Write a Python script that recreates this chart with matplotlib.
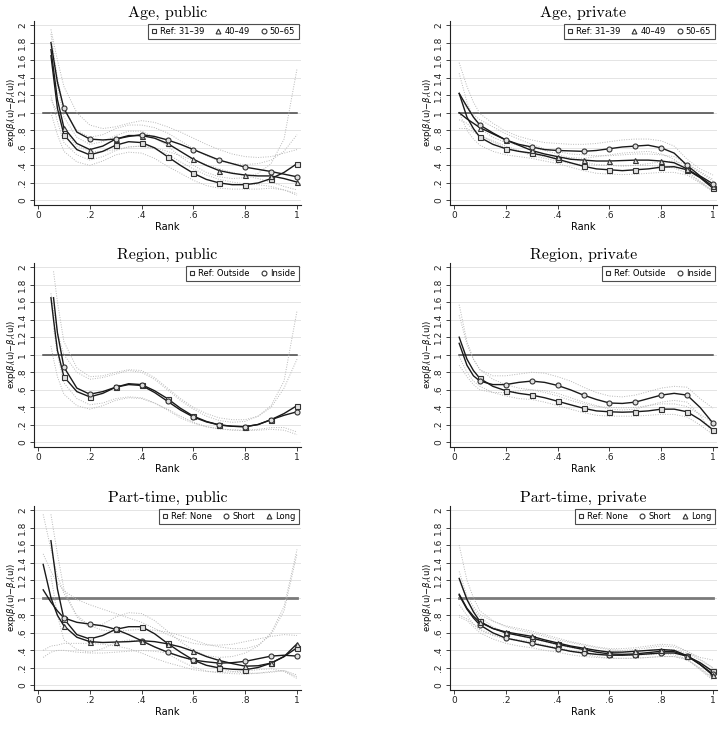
import numpy as np
import matplotlib
matplotlib.use('Agg')
import matplotlib.pyplot as plt
from matplotlib.lines import Line2D

# rank grids (curves start at different ranks)
U_A = [0.05, 0.075, 0.1, 0.15, 0.2, 0.25, 0.3, 0.35, 0.4, 0.45, 0.5, 0.55, 0.6, 0.65, 0.7, 0.75, 0.8, 0.85, 0.9, 0.95, 1.0]
U_B = [0.02, 0.05, 0.075, 0.1, 0.15, 0.2, 0.25, 0.3, 0.35, 0.4, 0.45, 0.5, 0.55, 0.6, 0.65, 0.7, 0.75, 0.8, 0.85, 0.9, 0.95, 1.0]
U_C = [0.05, 0.06, 0.075, 0.1, 0.15, 0.2, 0.25, 0.3, 0.35, 0.4, 0.45, 0.5, 0.55, 0.6, 0.65, 0.7, 0.75, 0.8, 0.85, 0.9, 0.95, 1.0]
nan = np.nan

# Age, public (grid U_A)
age_pub_ref = [1.65, 1.05, 0.75, 0.58, 0.52, 0.56, 0.63, 0.67, 0.66, 0.60, 0.50, 0.40, 0.31, 0.24, 0.20, 0.18, 0.18, 0.20, 0.25, 0.32, 0.42]
age_pub_ref_hi = [1.75, 1.30, 0.95, 0.72, 0.64, 0.67, 0.74, 0.79, 0.79, 0.72, 0.62, 0.50, 0.40, 0.32, 0.27, 0.25, 0.26, 0.31, 0.42, 0.70, 1.50]
age_pub_ref_lo = [1.00, 0.75, 0.56, 0.44, 0.40, 0.45, 0.52, 0.55, 0.54, 0.48, 0.39, 0.31, 0.23, 0.17, 0.14, 0.13, 0.13, 0.13, 0.14, 0.12, 0.06]
age_pub_40 = [1.72, 1.15, 0.83, 0.65, 0.58, 0.62, 0.70, 0.74, 0.74, 0.71, 0.65, 0.56, 0.47, 0.40, 0.34, 0.31, 0.29, 0.28, 0.28, 0.25, 0.21]
age_pub_40_hi = [1.90, 1.40, 1.05, 0.80, 0.72, 0.75, 0.82, 0.86, 0.86, 0.83, 0.77, 0.68, 0.59, 0.51, 0.45, 0.42, 0.41, 0.42, 0.46, 0.56, 0.75]
age_pub_40_lo = [1.20, 0.90, 0.66, 0.52, 0.46, 0.50, 0.57, 0.61, 0.62, 0.59, 0.53, 0.44, 0.36, 0.29, 0.24, 0.21, 0.19, 0.18, 0.16, 0.12, 0.08]
age_pub_50 = [1.80, 1.35, 1.05, 0.78, 0.70, 0.69, 0.70, 0.73, 0.75, 0.73, 0.69, 0.64, 0.58, 0.52, 0.46, 0.42, 0.38, 0.355, 0.33, 0.30, 0.27]
age_pub_50_hi = [1.95, 1.60, 1.30, 1.00, 0.86, 0.82, 0.84, 0.88, 0.91, 0.89, 0.84, 0.78, 0.71, 0.64, 0.58, 0.53, 0.50, 0.49, 0.50, 0.54, 0.58]
age_pub_50_lo = [1.15, 1.00, 0.80, 0.62, 0.56, 0.56, 0.58, 0.61, 0.62, 0.60, 0.56, 0.51, 0.46, 0.41, 0.36, 0.32, 0.28, 0.25, 0.21, 0.16, 0.12]

# Age, private (grid U_B)
age_prv_ref = [1.22, 0.95, 0.82, 0.72, 0.64, 0.59, 0.56, 0.54, 0.51, 0.47, 0.43, 0.39, 0.36, 0.35, 0.34, 0.35, 0.36, 0.38, 0.385, 0.35, 0.26, 0.14]
age_prv_ref_hi = [1.45, 1.12, 0.95, 0.82, 0.72, 0.66, 0.63, 0.60, 0.57, 0.53, 0.48, 0.44, 0.41, 0.40, 0.39, 0.40, 0.42, 0.44, 0.45, 0.41, 0.32, 0.22]
age_prv_ref_lo = [1.00, 0.80, 0.70, 0.63, 0.56, 0.52, 0.50, 0.48, 0.45, 0.42, 0.38, 0.34, 0.31, 0.30, 0.295, 0.30, 0.31, 0.32, 0.32, 0.29, 0.20, 0.10]
age_prv_40 = [1.00, 0.93, 0.88, 0.83, 0.76, 0.69, 0.63, 0.57, 0.53, 0.50, 0.47, 0.46, 0.45, 0.45, 0.455, 0.46, 0.46, 0.45, 0.43, 0.36, 0.27, 0.16]
age_prv_40_hi = [1.20, 1.05, 0.98, 0.92, 0.84, 0.76, 0.70, 0.64, 0.59, 0.56, 0.53, 0.52, 0.51, 0.51, 0.52, 0.53, 0.53, 0.52, 0.50, 0.42, 0.33, 0.24]
age_prv_40_lo = [0.82, 0.82, 0.78, 0.74, 0.68, 0.62, 0.57, 0.51, 0.48, 0.45, 0.42, 0.41, 0.40, 0.40, 0.40, 0.40, 0.40, 0.39, 0.37, 0.31, 0.22, 0.11]
age_prv_50 = [1.22, 1.07, 0.95, 0.86, 0.77, 0.69, 0.64, 0.61, 0.58, 0.57, 0.565, 0.56, 0.57, 0.59, 0.61, 0.62, 0.63, 0.60, 0.54, 0.40, 0.28, 0.19]
age_prv_50_hi = [1.57, 1.30, 1.12, 0.99, 0.88, 0.79, 0.73, 0.69, 0.66, 0.65, 0.64, 0.64, 0.65, 0.67, 0.69, 0.70, 0.70, 0.68, 0.62, 0.47, 0.36, 0.29]
age_prv_50_lo = [0.92, 0.88, 0.80, 0.74, 0.67, 0.60, 0.56, 0.53, 0.50, 0.49, 0.49, 0.48, 0.50, 0.52, 0.54, 0.55, 0.56, 0.53, 0.47, 0.34, 0.21, 0.11]

# Region, public (grid U_C)
reg_pub_ref = [1.65, 1.40, 1.05, 0.75, 0.58, 0.52, 0.56, 0.63, 0.67, 0.66, 0.59, 0.50, 0.39, 0.30, 0.24, 0.20, 0.185, 0.18, 0.205, 0.26, 0.33, 0.42]
reg_pub_ref_hi = [1.70, 1.50, 1.25, 1.00, 0.80, 0.72, 0.74, 0.78, 0.82, 0.80, 0.72, 0.60, 0.48, 0.38, 0.30, 0.25, 0.23, 0.24, 0.30, 0.42, 0.70, 1.50]
reg_pub_ref_lo = [1.10, 0.95, 0.75, 0.55, 0.42, 0.38, 0.42, 0.48, 0.51, 0.50, 0.45, 0.38, 0.30, 0.23, 0.18, 0.155, 0.14, 0.135, 0.14, 0.15, 0.14, 0.09]
reg_pub_in = [nan, 1.65, 1.25, 0.86, 0.62, 0.55, 0.58, 0.63, 0.66, 0.65, 0.57, 0.47, 0.37, 0.29, 0.235, 0.20, 0.185, 0.18, 0.205, 0.26, 0.31, 0.35]
reg_pub_in_hi = [nan, 1.95, 1.60, 1.15, 0.85, 0.75, 0.76, 0.80, 0.83, 0.82, 0.74, 0.62, 0.50, 0.40, 0.33, 0.28, 0.26, 0.26, 0.30, 0.40, 0.62, 0.95]
reg_pub_in_lo = [nan, 1.30, 1.00, 0.68, 0.50, 0.43, 0.45, 0.50, 0.52, 0.51, 0.45, 0.37, 0.28, 0.22, 0.18, 0.155, 0.145, 0.14, 0.15, 0.17, 0.17, 0.12]

# Region, private (grid U_B)
reg_prv_ref = [1.20, 0.95, 0.82, 0.73, 0.64, 0.59, 0.56, 0.54, 0.51, 0.47, 0.43, 0.39, 0.36, 0.35, 0.345, 0.35, 0.36, 0.38, 0.38, 0.35, 0.26, 0.145]
reg_prv_ref_hi = [1.45, 1.12, 0.95, 0.83, 0.72, 0.66, 0.62, 0.60, 0.57, 0.53, 0.48, 0.44, 0.41, 0.40, 0.395, 0.40, 0.42, 0.44, 0.44, 0.41, 0.32, 0.23]
reg_prv_ref_lo = [0.98, 0.80, 0.70, 0.64, 0.57, 0.53, 0.50, 0.49, 0.46, 0.42, 0.38, 0.34, 0.31, 0.30, 0.30, 0.30, 0.31, 0.32, 0.32, 0.29, 0.20, 0.09]
reg_prv_in = [1.13, 0.88, 0.76, 0.70, 0.66, 0.66, 0.685, 0.70, 0.685, 0.65, 0.60, 0.54, 0.49, 0.45, 0.445, 0.46, 0.50, 0.54, 0.56, 0.54, 0.40, 0.22]
reg_prv_in_hi = [1.57, 1.15, 0.95, 0.83, 0.76, 0.76, 0.78, 0.80, 0.79, 0.75, 0.70, 0.63, 0.57, 0.53, 0.52, 0.54, 0.58, 0.62, 0.64, 0.63, 0.50, 0.39]
reg_prv_in_lo = [0.88, 0.75, 0.66, 0.60, 0.57, 0.57, 0.59, 0.60, 0.59, 0.56, 0.51, 0.46, 0.42, 0.38, 0.37, 0.38, 0.42, 0.46, 0.48, 0.46, 0.31, 0.10]

# Part-time, public (grid U_B)
pt_pub_ref = [nan, 1.65, 1.10, 0.76, 0.58, 0.53, 0.57, 0.64, 0.67, 0.67, 0.59, 0.48, 0.38, 0.29, 0.23, 0.20, 0.185, 0.18, 0.205, 0.255, 0.33, 0.43]
pt_pub_ref_hi = [nan, 1.95, 1.50, 1.10, 0.78, 0.66, 0.70, 0.78, 0.83, 0.82, 0.74, 0.62, 0.50, 0.40, 0.34, 0.32, 0.33, 0.37, 0.45, 0.60, 0.90, 1.55]
pt_pub_ref_lo = [nan, 1.25, 0.80, 0.52, 0.41, 0.38, 0.42, 0.49, 0.52, 0.50, 0.44, 0.36, 0.28, 0.21, 0.165, 0.145, 0.135, 0.13, 0.14, 0.16, 0.17, 0.10]
pt_pub_short = [1.09, 0.95, 0.85, 0.77, 0.72, 0.70, 0.68, 0.64, 0.58, 0.51, 0.44, 0.38, 0.33, 0.29, 0.27, 0.255, 0.26, 0.275, 0.305, 0.335, 0.345, 0.335]
pt_pub_short_hi = [1.50, 1.30, 1.17, 1.08, 0.98, 0.92, 0.87, 0.82, 0.77, 0.72, 0.65, 0.58, 0.52, 0.48, 0.46, 0.46, 0.47, 0.50, 0.53, 0.56, 0.58, 0.57]
pt_pub_short_lo = [0.40, 0.45, 0.46, 0.48, 0.48, 0.48, 0.47, 0.45, 0.42, 0.37, 0.31, 0.26, 0.22, 0.18, 0.16, 0.15, 0.155, 0.165, 0.18, 0.19, 0.16, 0.08]
pt_pub_long = [1.38, 1.00, 0.80, 0.68, 0.55, 0.50, 0.49, 0.495, 0.50, 0.51, 0.50, 0.475, 0.44, 0.39, 0.33, 0.285, 0.25, 0.22, 0.225, 0.255, 0.33, 0.475]
pt_pub_long_hi = [1.95, 1.55, 1.25, 1.05, 0.80, 0.68, 0.63, 0.62, 0.63, 0.64, 0.63, 0.61, 0.57, 0.52, 0.47, 0.44, 0.42, 0.42, 0.46, 0.58, 0.85, 1.50]
pt_pub_long_lo = [0.32, 0.38, 0.40, 0.40, 0.38, 0.37, 0.37, 0.38, 0.39, 0.40, 0.39, 0.37, 0.33, 0.28, 0.23, 0.19, 0.16, 0.14, 0.14, 0.15, 0.17, 0.12]

# Part-time, private (grid U_B)
pt_prv_ref = [1.22, 0.98, 0.84, 0.73, 0.65, 0.60, 0.57, 0.54, 0.505, 0.47, 0.44, 0.41, 0.38, 0.36, 0.355, 0.36, 0.375, 0.39, 0.385, 0.335, 0.26, 0.16]
pt_prv_ref_hi = [1.60, 1.20, 1.00, 0.85, 0.74, 0.67, 0.63, 0.60, 0.56, 0.52, 0.49, 0.46, 0.43, 0.41, 0.40, 0.41, 0.43, 0.45, 0.44, 0.39, 0.32, 0.29]
pt_prv_ref_lo = [0.92, 0.80, 0.70, 0.63, 0.57, 0.53, 0.51, 0.48, 0.45, 0.42, 0.39, 0.36, 0.33, 0.31, 0.31, 0.31, 0.32, 0.33, 0.33, 0.29, 0.20, 0.09]
pt_prv_short = [1.03, 0.87, 0.77, 0.69, 0.60, 0.54, 0.51, 0.48, 0.45, 0.42, 0.39, 0.37, 0.355, 0.345, 0.345, 0.35, 0.36, 0.37, 0.37, 0.335, 0.24, 0.13]
pt_prv_short_hi = [1.20, 0.98, 0.87, 0.78, 0.67, 0.60, 0.57, 0.53, 0.50, 0.46, 0.43, 0.41, 0.39, 0.38, 0.38, 0.39, 0.40, 0.41, 0.41, 0.37, 0.29, 0.20]
pt_prv_short_lo = [0.78, 0.74, 0.67, 0.60, 0.53, 0.48, 0.45, 0.43, 0.40, 0.38, 0.35, 0.33, 0.32, 0.31, 0.31, 0.31, 0.32, 0.33, 0.33, 0.30, 0.19, 0.08]
pt_prv_long = [1.04, 0.88, 0.79, 0.72, 0.65, 0.61, 0.585, 0.56, 0.52, 0.485, 0.45, 0.425, 0.40, 0.38, 0.38, 0.39, 0.40, 0.41, 0.40, 0.34, 0.24, 0.115]
pt_prv_long_hi = [1.30, 1.02, 0.90, 0.81, 0.73, 0.68, 0.65, 0.62, 0.58, 0.54, 0.50, 0.47, 0.44, 0.42, 0.42, 0.43, 0.45, 0.47, 0.46, 0.39, 0.30, 0.20]
pt_prv_long_lo = [0.80, 0.76, 0.70, 0.64, 0.58, 0.54, 0.52, 0.50, 0.46, 0.43, 0.40, 0.38, 0.36, 0.35, 0.34, 0.35, 0.35, 0.36, 0.35, 0.30, 0.18, 0.06]

AGE_LABELS = ['Ref: 31\u201339', '40\u201349', '50\u201365']
REGION_LABELS = ['Ref: Outside', 'Inside']
PT_LABELS = ['Ref: None', 'Short', 'Long']

X_TICKS = [0, 0.2, 0.4, 0.6, 0.8, 1]
X_TICKLABELS = ['0', '.2', '.4', '.6', '.8', '1']
Y_TICKS = [0, 0.2, 0.4, 0.6, 0.8, 1, 1.2, 1.4, 1.6, 1.8, 2]
Y_TICKLABELS = ['0', '.2', '.4', '.6', '.8', '1', '1.2', '1.4', '1.6', '1.8', '2']

panels = [
    ('Age, public', U_A, AGE_LABELS, ['s', '^', 'o'],
     [(age_pub_ref, age_pub_ref_lo, age_pub_ref_hi),
      (age_pub_40, age_pub_40_lo, age_pub_40_hi),
      (age_pub_50, age_pub_50_lo, age_pub_50_hi)]),
    ('Age, private', U_B, AGE_LABELS, ['s', '^', 'o'],
     [(age_prv_ref, age_prv_ref_lo, age_prv_ref_hi),
      (age_prv_40, age_prv_40_lo, age_prv_40_hi),
      (age_prv_50, age_prv_50_lo, age_prv_50_hi)]),
    ('Region, public', U_C, REGION_LABELS, ['s', 'o'],
     [(reg_pub_ref, reg_pub_ref_lo, reg_pub_ref_hi),
      (reg_pub_in, reg_pub_in_lo, reg_pub_in_hi)]),
    ('Region, private', U_B, REGION_LABELS, ['s', 'o'],
     [(reg_prv_ref, reg_prv_ref_lo, reg_prv_ref_hi),
      (reg_prv_in, reg_prv_in_lo, reg_prv_in_hi)]),
    ('Part-time, public', U_B, PT_LABELS, ['s', 'o', '^'],
     [(pt_pub_ref, pt_pub_ref_lo, pt_pub_ref_hi),
      (pt_pub_short, pt_pub_short_lo, pt_pub_short_hi),
      (pt_pub_long, pt_pub_long_lo, pt_pub_long_hi)]),
    ('Part-time, private', U_B, PT_LABELS, ['s', 'o', '^'],
     [(pt_prv_ref, pt_prv_ref_lo, pt_prv_ref_hi),
      (pt_prv_short, pt_prv_short_lo, pt_prv_short_hi),
      (pt_prv_long, pt_prv_long_lo, pt_prv_long_hi)]),
]

fig = plt.figure(figsize=(7.21, 7.32), dpi=100)
W, H = 721.0, 732.0
col_left = [34, 450]
row_top = [21, 263, 506]
ax_w, ax_h = 267, 183.5

for k, (title, u, labels, markers, series) in enumerate(panels):
    r, c = divmod(k, 2)
    ax = fig.add_axes([col_left[c] / W, 1 - (row_top[r] + ax_h) / H, ax_w / W, ax_h / H])
    u = np.array(u)
    # marker only at ranks .1, .2, ..., 1
    mark_idx = [i for i, v in enumerate(u) if abs(v * 10 - round(v * 10)) < 1e-6 and v > 0.05]

    for y in Y_TICKS:
        ax.axhline(y, color='#e4e4e4', lw=0.7, zorder=0)
    ref_lw = 2.0 if r == 2 else 1.1
    ref_col = '#7a7a7a' if r == 2 else '#444444'
    ax.plot([0.02, 1.0], [1, 1], color=ref_col, lw=ref_lw, zorder=1)

    for (mid, lo, hi) in series:
        ax.plot(u, np.array(lo, dtype=float), ls=(0, (1, 1.5)), color='#b8b8b8', lw=0.7, zorder=2)
        ax.plot(u, np.array(hi, dtype=float), ls=(0, (1, 1.5)), color='#b8b8b8', lw=0.7, zorder=2)
    for (mid, lo, hi), m in zip(series, markers):
        ax.plot(u, np.array(mid, dtype=float), color='#1a1a1a', lw=1.0, marker=m,
                markevery=mark_idx, ms=3.6, mfc='#e0e0e0', mec='#333333', mew=0.8, zorder=3)

    ax.set_xlim(-4 / 259, 1 + 4 / 259)
    ax.set_ylim(-4 / 87.5, 2 + 4 / 87.5)
    ax.set_xticks(X_TICKS)
    ax.set_xticklabels(X_TICKLABELS, fontsize=6.5)
    ax.set_yticks(Y_TICKS)
    ax.set_yticklabels(Y_TICKLABELS, fontsize=6.5, rotation=90, va='center')
    ax.tick_params(length=3, width=0.6, pad=2, colors='#222222')
    for s in ['top', 'right']:
        ax.spines[s].set_visible(False)
    for s in ['left', 'bottom']:
        ax.spines[s].set_linewidth(0.8)
        ax.spines[s].set_color('#222222')
    ax.set_xlabel('Rank', fontsize=7, labelpad=1)
    ax.set_ylabel(r'exp($\beta_i$(u)$-\beta_r$(u))', fontsize=6, labelpad=0)
    ax.set_title(title, fontsize=11.5, family='cmr10', pad=3)

    handles = [Line2D([], [], ls='none', marker=m, ms=3.5, mfc='white', mec='#333333', mew=0.8)
               for m in markers]
    leg = ax.legend(handles, labels, loc='upper right', ncol=len(labels), fontsize=6,
                    frameon=True, fancybox=False, edgecolor='#222222', handlelength=0.7,
                    handletextpad=0.4, columnspacing=1.3, borderpad=0.4, borderaxespad=0.3)
    leg.get_frame().set_linewidth(0.8)

fig.savefig('out.png', dpi=100)
